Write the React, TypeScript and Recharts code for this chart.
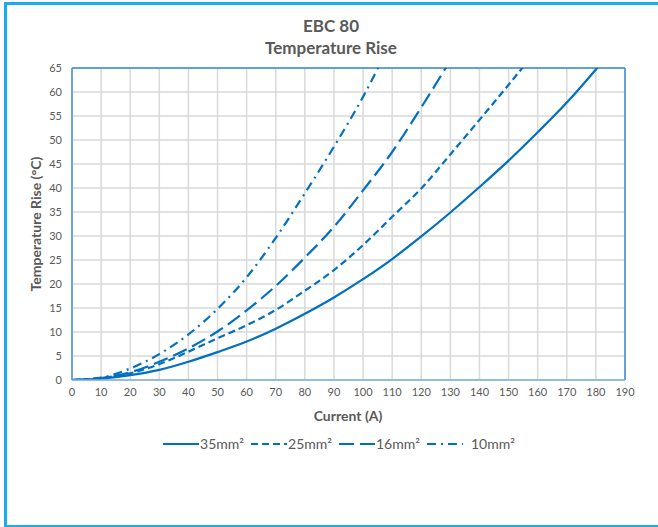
import * as React from "react";
import {
  LineChart,
  Line,
  XAxis,
  YAxis,
  CartesianGrid,
  ReferenceLine,
} from "recharts";

// current (A) at each row
const currents = [0, 10, 20, 30, 40, 50, 60, 70, 80, 90, 100, 110, 120, 130, 140, 150, 160, 170, 180, 190];

// temperature rise (°C) per cable size
const rise35 = [0, 0.3, 1.0, 2.1, 3.8, 5.8, 8.0, 10.7, 13.8, 17.2, 21.0, 25.2, 29.9, 34.9, 40.2, 45.7, 51.6, 57.8, 64.7, 72];
const rise25 = [0, 0.4, 1.4, 3.3, 5.9, 8.7, 11.4, 14.6, 18.6, 22.9, 28.1, 34.0, 39.9, 47.0, 54.2, 61.5, 69, null, null, null];
const rise16 = [0, 0.4, 1.6, 3.8, 6.6, 10.1, 14.5, 19.6, 25.5, 31.9, 39.5, 47.5, 56.8, 66.6, null, null, null, null, null, null];
const rise10 = [0, 0.5, 2.4, 5.4, 9.5, 14.8, 21.4, 29.6, 38.9, 48.6, 59.0, 71, null, null, null, null, null, null, null, null];

const xTicks = [0, 10, 20, 30, 40, 50, 60, 70, 80, 90, 100, 110, 120, 130, 140, 150, 160, 170, 180, 190];
const yTicks = [0, 5, 10, 15, 20, 25, 30, 35, 40, 45, 50, 55, 60, 65];

const seriesNames = ["35mm²", "25mm²", "16mm²", "10mm²"];
const dashes = ["", "7 4", "15 6", "9 5 2 5"];

const BLUE = "#0070C0";
const GREY = "#595959";
const FONT = "Lato, 'Noto Sans', sans-serif";

const data = currents.map((c, i) => ({
  current: c,
  s35: rise35[i],
  s25: rise25[i],
  s16: rise16[i],
  s10: rise10[i],
}));

const keys = ["s35", "s25", "s16", "s10"];

const LegendRow = () => (
  <div
    style={{
      position: "absolute",
      left: 0,
      width: 678,
      top: 435,
      display: "flex",
      justifyContent: "center",
      alignItems: "center",
      fontFamily: FONT,
      fontSize: 14,
      color: GREY,
      gap: 7,
    }}
  >
    {seriesNames.map((name, i) => (
      <div key={name} style={{ display: "flex", alignItems: "center" }}>
        <svg width={36} height={8}>
          <line
            x1={0}
            y1={4}
            x2={36}
            y2={4}
            stroke={BLUE}
            strokeWidth={2.2}
            strokeDasharray={dashes[i] || undefined}
          />
        </svg>
        <span style={{ marginLeft: i === 3 ? 8 : 1 }}>{name}</span>
      </div>
    ))}
  </div>
);

export default function App() {
  return (
    <div
      style={{
        position: "absolute",
        left: 0,
        top: 0,
        width: 658,
        height: 527,
        background: "#fff",
      }}
    >
      <div
        style={{
          position: "absolute",
          left: 4,
          top: 2,
          width: 654,
          height: 520,
          borderLeft: "3px solid #1AADEE",
          borderTop: "3px solid #1AADEE",
          borderBottom: "3px solid #1AADEE",
        }}
      />
      <div
        style={{
          position: "absolute",
          left: 4,
          width: 654,
          top: 15,
          textAlign: "center",
          fontFamily: FONT,
          fontWeight: 700,
          fontSize: 17,
          color: GREY,
          lineHeight: "22px",
        }}
      >
        <div>EBC 80</div>
        <div>Temperature Rise</div>
      </div>
      <div style={{ position: "absolute", left: 0, top: 0 }}>
        <LineChart
          width={658}
          height={527}
          data={data}
          margin={{ top: 68, right: 33, bottom: 117, left: 32 }}
        >
          <CartesianGrid stroke="#D9D9D9" strokeWidth={1.5} />
          <XAxis
            dataKey="current"
            type="number"
            domain={[0, 190]}
            ticks={xTicks}
            interval={0}
            height={30}
            tickLine={false}
            axisLine={{ stroke: "#7EAEDD", strokeWidth: 1.5 }}
            tick={{ fill: GREY, fontSize: 11, fontFamily: FONT }}
          />
          <YAxis
            type="number"
            domain={[0, 65]}
            ticks={yTicks}
            interval={0}
            allowDataOverflow
            width={40}
            tickLine={false}
            tickMargin={4}
            axisLine={{ stroke: "#4A90D9", strokeWidth: 1.5 }}
            tick={{ fill: GREY, fontSize: 11, fontFamily: FONT }}
          />
          <ReferenceLine y={65} stroke="#3A8BD8" strokeWidth={1.5} />
          <ReferenceLine x={190} stroke="#3A8BD8" strokeWidth={1.5} />
          {keys.map((k, i) => (
            <Line
              key={k}
              dataKey={k}
              name={seriesNames[i]}
              type="monotone"
              stroke={BLUE}
              strokeWidth={2.2}
              strokeDasharray={dashes[i] || undefined}
              dot={false}
              activeDot={false}
              connectNulls={false}
              isAnimationActive={false}
            />
          ))}
        </LineChart>
      </div>
      <div
        style={{
          position: "absolute",
          left: 248,
          width: 200,
          top: 407,
          textAlign: "center",
          fontFamily: FONT,
          fontWeight: 700,
          fontSize: 14,
          color: GREY,
        }}
      >
        Current (A)
      </div>
      <div
        style={{
          position: "absolute",
          left: 36,
          top: 224,
          width: 0,
          height: 0,
        }}
      >
        <div
          style={{
            position: "absolute",
            left: -110,
            top: -10,
            width: 220,
            height: 20,
            lineHeight: "20px",
            textAlign: "center",
            transform: "rotate(-90deg)",
            fontFamily: FONT,
            fontWeight: 700,
            fontSize: 14,
            color: GREY,
            whiteSpace: "nowrap",
          }}
        >
          Temperature Rise (°C)
        </div>
      </div>
      <LegendRow />
    </div>
  );
}
